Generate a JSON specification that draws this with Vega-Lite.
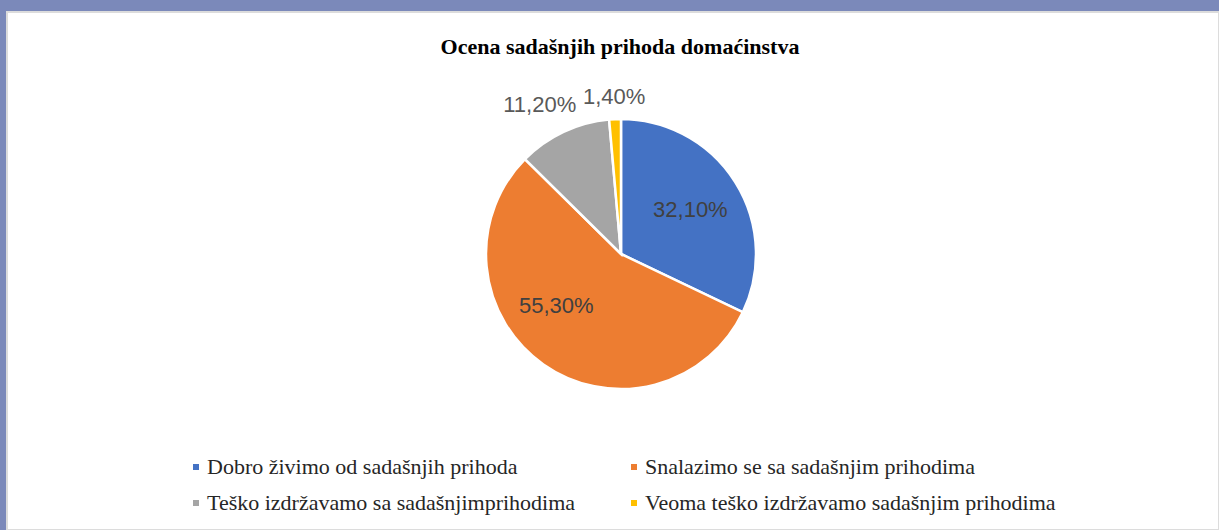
{
  "$schema": "https://vega.github.io/schema/vega-lite/v6.json",
  "width": 1212,
  "height": 518,
  "autosize": {"type": "none"},
  "padding": {"left": 7, "top": 12, "right": 0, "bottom": 0},
  "background": "#7b89ba",
  "config": {
    "view": {"fill": "white", "stroke": "#dcdcdc", "strokeWidth": 2},
    "locale": {"number": {"decimal": ",", "thousands": ".", "grouping": [3], "currency": ["", " €"]}}
  },
  "title": {
    "text": "Ocena sadašnjih prihoda domaćinstva",
    "font": "Liberation Serif",
    "fontSize": 22,
    "fontWeight": "bold",
    "color": "#000000",
    "anchor": "middle",
    "dx": 7,
    "offset": -48
  },
  "data": {
    "values": [
      {"kategorija": "Dobro živimo od sadašnjih prihoda", "udeo": 0.321},
      {"kategorija": "Snalazimo se sa sadašnjim prihodima", "udeo": 0.553},
      {"kategorija": "Teško izdržavamo sa sadašnjimprihodima", "udeo": 0.112},
      {"kategorija": "Veoma teško izdržavamo sadašnjim prihodima", "udeo": 0.014}
    ]
  },
  "layer": [
    {
      "data": {"values": [{"panel": "pozadina"}]},
      "mark": {"type": "rect", "fill": "white", "stroke": "#dcdcdc", "strokeWidth": 2},
      "encoding": {}
    },
    {
      "mark": {"type": "arc", "outerRadius": 135, "stroke": "white", "strokeWidth": 2.5, "xOffset": 8, "yOffset": -17},
      "encoding": {
        "theta": {"field": "udeo", "type": "quantitative", "stack": true},
        "order": {"field": "kategorija", "type": "nominal", "sort": "ascending"},
        "color": {
          "field": "kategorija",
          "type": "nominal",
          "scale": {
            "domain": ["Dobro živimo od sadašnjih prihoda", "Snalazimo se sa sadašnjim prihodima", "Teško izdržavamo sa sadašnjimprihodima", "Veoma teško izdržavamo sadašnjim prihodima"],
            "range": ["#4472c4", "#ed7d31", "#a5a5a5", "#ffc000"]
          },
          "legend": {
            "title": null,
            "orient": "none",
            "legendX": 178,
            "legendY": 444,
            "columns": 2,
            "direction": "horizontal",
            "symbolType": "square",
            "symbolSize": 36,
            "symbolStrokeWidth": 0,
            "labelFont": "Liberation Serif",
            "labelFontSize": 22,
            "labelColor": "#262626",
            "labelOffset": 0,
            "labelLimit": 600,
            "columnPadding": 47,
            "rowPadding": 14,
            "padding": 0
          }
        }
      }
    },
    {
      "mark": {"type": "text", "radius": 82, "xOffset": 8, "yOffset": -17, "font": "Liberation Sans", "fontSize": 22},
      "encoding": {
        "theta": {"field": "udeo", "type": "quantitative", "stack": true},
        "order": {"field": "kategorija", "type": "nominal", "sort": "ascending"},
        "detail": {"field": "kategorija", "type": "nominal"},
        "color": {"value": "#404040"},
        "text": {"field": "udeo", "type": "quantitative", "format": ".2%", "condition": {"test": "datum.kategorija !== 'Dobro živimo od sadašnjih prihoda'", "value": ""}}
      }
    },
    {
      "mark": {"type": "text", "radius": 83, "xOffset": 8, "yOffset": -17, "dx": -17, "dy": -16, "font": "Liberation Sans", "fontSize": 22},
      "encoding": {
        "theta": {"field": "udeo", "type": "quantitative", "stack": true},
        "order": {"field": "kategorija", "type": "nominal", "sort": "ascending"},
        "detail": {"field": "kategorija", "type": "nominal"},
        "color": {"value": "#404040"},
        "text": {"field": "udeo", "type": "quantitative", "format": ".2%", "condition": {"test": "datum.kategorija !== 'Snalazimo se sa sadašnjim prihodima'", "value": ""}}
      }
    },
    {
      "mark": {"type": "text", "radius": 165, "xOffset": 8, "yOffset": -17, "dx": -11, "font": "Liberation Sans", "fontSize": 22},
      "encoding": {
        "theta": {"field": "udeo", "type": "quantitative", "stack": true},
        "order": {"field": "kategorija", "type": "nominal", "sort": "ascending"},
        "detail": {"field": "kategorija", "type": "nominal"},
        "color": {"value": "#595959"},
        "text": {"field": "udeo", "type": "quantitative", "format": ".2%", "condition": {"test": "datum.kategorija !== 'Teško izdržavamo sa sadašnjimprihodima'", "value": ""}}
      }
    },
    {
      "mark": {"type": "text", "radius": 157, "xOffset": 8, "yOffset": -17, "font": "Liberation Sans", "fontSize": 22},
      "encoding": {
        "theta": {"field": "udeo", "type": "quantitative", "stack": true},
        "order": {"field": "kategorija", "type": "nominal", "sort": "ascending"},
        "detail": {"field": "kategorija", "type": "nominal"},
        "color": {"value": "#595959"},
        "text": {"field": "udeo", "type": "quantitative", "format": ".2%", "condition": {"test": "datum.kategorija !== 'Veoma teško izdržavamo sadašnjim prihodima'", "value": ""}}
      }
    }
  ]
}
